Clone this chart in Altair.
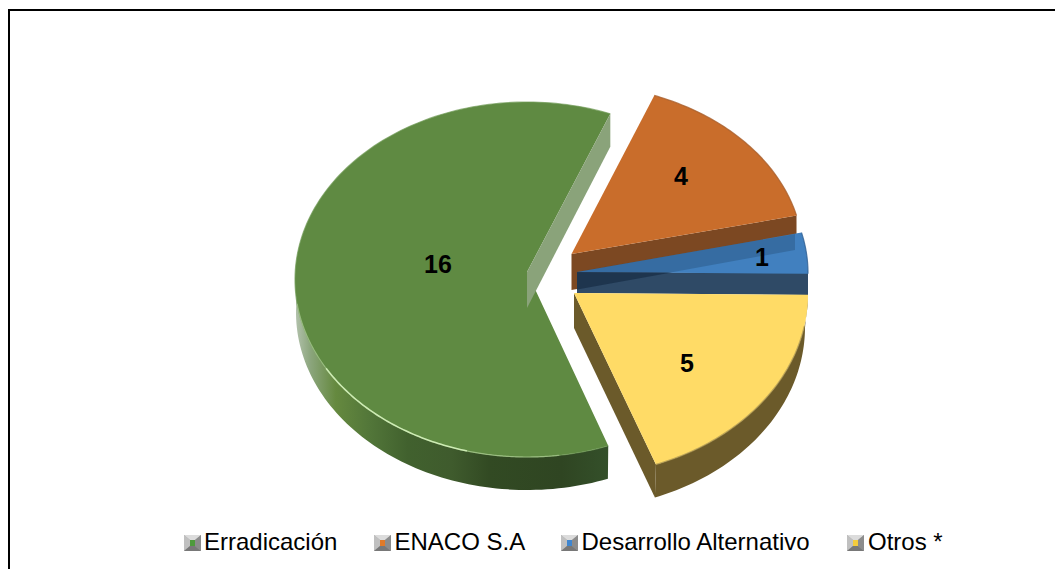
import math
import altair as alt
import pandas as pd

# ---- data ----
CATEGORIES = ["Erradicación", "ENACO S.A", "Desarrollo Alternativo", "Otros *"]
VALUES = [16, 4, 1, 5]

# ---- slice angles come from the values (clockwise from 12 o'clock) ----
START = 159.5
TOTAL = sum(VALUES)
ANGLES = []
_a = START
for _v in VALUES:
    ANGLES.append((_a, _a + 360 * _v / TOTAL))
    _a += 360 * _v / TOTAL
GREEN, ORANGE, BLUE, YELLOW = ANGLES


def arc(cx, cy, rx, ry, a0, a1, n=60):
    out = []
    for i in range(n + 1):
        t = math.radians(a0 + (a1 - a0) * i / n)
        out.append((cx + rx * math.sin(t), cy - ry * math.cos(t)))
    return out


def P(pts):
    return [[round(x - 8, 2), round(y - 8, 2)] for x, y in pts]


def layer_geom(geom, **mark):
    d = alt.Data(values=[{"type": "Feature", "properties": {}, "geometry": geom}])
    return alt.Chart(d).mark_geoshape(**mark).project(type="identity", scale=1, translate=[0, 0])


def poly(pts, fill, **kw):
    p = P(pts)
    p.append(p[0])
    return layer_geom({"type": "Polygon", "coordinates": [p]}, fill=fill, strokeWidth=0, **kw)


def line(pts, color, width=1.0, opacity=1.0):
    return layer_geom({"type": "LineString", "coordinates": P(pts)},
                      filled=False, stroke=color, strokeWidth=width, strokeOpacity=opacity)


def hgrad(stops):
    return alt.Gradient(gradient="linear", x1=0, x2=1, y1=0, y2=0,
                        stops=[alt.GradientStop(offset=o, color=c) for o, c in stops])


layers = []

# frame (open on the right and at the bottom)
layers.append(line([(9, 577), (9, 10), (1063, 10)], "#000000", 2))

# ---- green slice ----
G = dict(cx=527, cy=279.5, rx=232, ry=177.5)
g_top = arc(**G, a0=GREEN[0], a1=GREEN[1], n=160)
g_tip = (527, 272)
g_side_a = arc(**G, a0=GREEN[0], a1=272, n=80)
g_side_b = arc(527, 312.5, 231, 177.5, 272, GREEN[0], n=80)
layers.append(poly(g_side_a + g_side_b, hgrad([
    (0.0, "#b4c3ae"), (0.05, "#8ba57c"), (0.13, "#65893f"), (0.24, "#527639"),
    (0.36, "#41612e"), (0.5, "#3f5b2d"), (0.62, "#324a23"), (0.85, "#2f4522"), (1.0, "#34502a"),
])))
layers.append(poly([g_tip] + g_top, "#5f8a42"))
layers.append(line(g_top, "#6f9a55", 1.2, 0.7))
layers.append(line(arc(**G, a0=262, a1=240), "#b4d49a", 1.2, 0.5))
layers.append(line(arc(**G, a0=240, a1=195), "#d2efb8", 1.6, 0.95))
layers.append(line(arc(**G, a0=195, a1=172), "#b4d49a", 1.2, 0.6))
# inner wall of the green slice
g_end = g_top[-1]
layers.append(poly([g_tip, g_end, (g_end[0], g_end[1] + 33), (527, 308)], "#8aa37a"))

# ---- orange slice ----
O = dict(cx=571, cy=256, rx=232, ry=172)
o_top = arc(**O, a0=ORANGE[0], a1=ORANGE[1])
o_tip = (571.5, 254)
o_end = o_top[-1]
layers.append(poly([o_tip, o_end, (o_end[0], o_end[1] + 34), (571.5, 290)], "#7c4822"))
layers.append(poly([o_tip] + o_top, "#c96d2b"))
layers.append(line(o_top, "#a9602e", 1.3, 0.8))

# ---- blue slice ----
B = dict(cx=577, cy=273, rx=231, ry=172)
b_top = arc(**B, a0=BLUE[0], a1=BLUE[1], n=20)
b_tip = (577, 272)
layers.append(poly([b_tip, (808, 273), (808, 295), (577, 293)], "#2f4a66"))
layers.append(poly([b_tip] + b_top, "#4180bf"))
layers.append(line(b_top, "#2f5f92", 1.2, 0.8))
# the orange wall shows through the blue slice
layers.append(poly([(577, 271.7), (795, 234), (795, 250), (577, 289.5)], "#0b1c33", opacity=0.2))
layers.append(poly([(577, 272.2), (672, 272.6), (577, 289.5)], "#0b1c33", opacity=0.3))

# ---- yellow slice ----
Y = dict(cx=574, cy=294, rx=234, ry=182)
y_top = arc(**Y, a0=YELLOW[0], a1=YELLOW[1])
y_bot = arc(574, 327, 231, 182, YELLOW[1], YELLOW[0])
y_tip = (574, 293)
layers.append(poly(y_top + y_bot, "#6b5a2a"))
layers.append(poly([y_tip, (574, 328), y_bot[0], y_top[-1]], "#6b5a2a"))
layers.append(poly([y_tip] + y_top, "#ffdb66"))
layers.append(line(arc(**Y, a0=YELLOW[0] + 10, a1=YELLOW[1]), "#a8924a", 1.4, 0.7))

# ---- data labels ----
LABEL_X = [438, 681, 762, 687]
LABEL_Y = [265, 177, 258, 364]
labels = pd.DataFrame({"v": VALUES, "x": [x - 8 for x in LABEL_X], "y": [y - 8 for y in LABEL_Y]})
layers.append(alt.Chart(labels).mark_text(
    font="Liberation Sans", fontSize=25, fontWeight="bold", color="#000000",
    align="center", baseline="middle",
).encode(x=alt.X("x:Q", scale=None, axis=None), y=alt.Y("y:Q", scale=None, axis=None), text="v:Q"))

# ---- legend ----
KEY_X = [184, 374, 561, 847]
TEXT_X = [204, 394.5, 581.5, 868]
KEY_COLORS = ["#4e9a3c", "#e07a28", "#3f86d0", "#f4cc3c"]
KEY_TOP, KEY_SIZE, KEY_INSET = 535, 17, 6
for kx, c1 in zip(KEY_X, KEY_COLORS):
    x0, x1, y0, y1 = kx, kx + KEY_SIZE, KEY_TOP, KEY_TOP + KEY_SIZE - 1
    ix0, ix1, iy0, iy1 = x0 + KEY_INSET, x1 - KEY_INSET, y0 + KEY_INSET - 1, y1 - KEY_INSET + 1
    layers.append(poly([(x0, y0), (x1, y0), (x1, y1), (x0, y1)], "#a8a8a8"))
    layers.append(poly([(x0, y0), (x1, y0), (ix1, iy0), (ix0, iy0)], "#dcdcdc"))
    layers.append(poly([(x0, y0), (ix0, iy0), (ix0, iy1), (x0, y1)], "#c0c0c0"))
    layers.append(poly([(x1, y0), (x1, y1), (ix1, iy1), (ix1, iy0)], "#8c8c8c"))
    layers.append(poly([(x0, y1), (ix0, iy1), (ix1, iy1), (x1, y1)], "#787878"))
    layers.append(poly([(ix0, iy0), (ix1, iy0), (ix1, iy1), (ix0, iy1)], c1))

legend = pd.DataFrame({"t": CATEGORIES, "x": [x - 8 for x in TEXT_X], "y": [550 - 8] * 4})
layers.append(alt.Chart(legend).mark_text(
    font="Liberation Sans", fontSize=24, color="#000000", align="left", baseline="alphabetic",
).encode(x=alt.X("x:Q", scale=None, axis=None), y=alt.Y("y:Q", scale=None, axis=None), text="t:N"))

chart = alt.layer(*layers).properties(
    width=1047, height=561, padding=0,
    autosize=alt.AutoSizeParams(type="none"),
    background="#ffffff",
).configure_view(strokeWidth=0)

chart.save("out.html", embed_options={"renderer": "svg", "actions": False})
